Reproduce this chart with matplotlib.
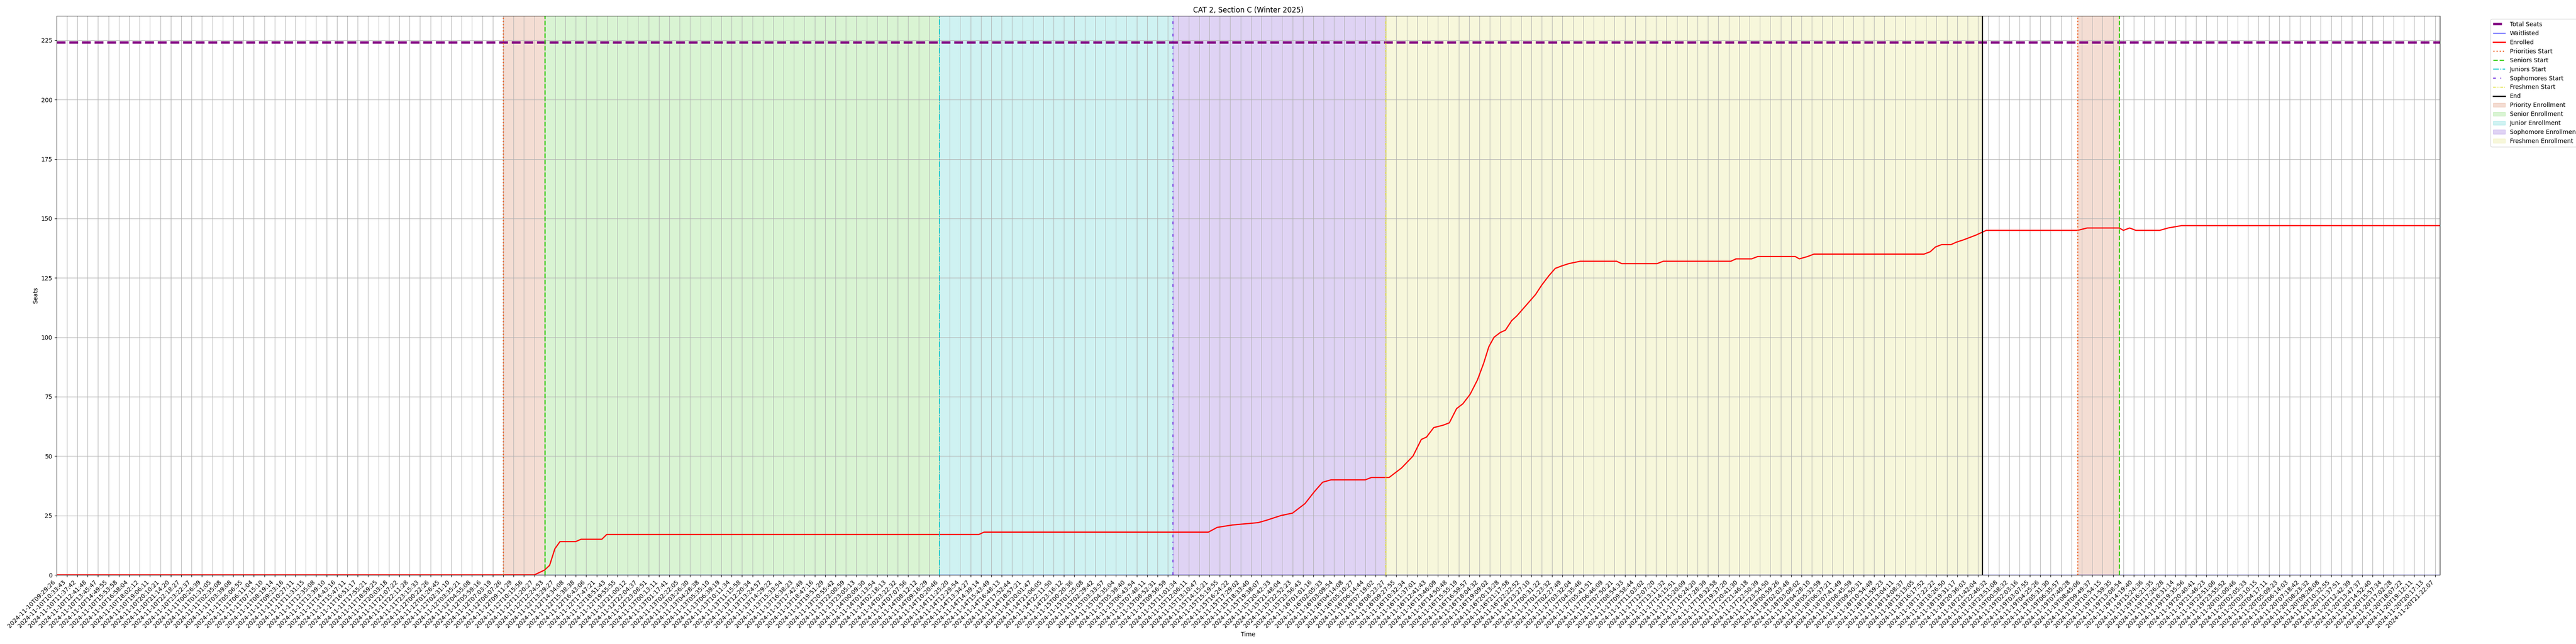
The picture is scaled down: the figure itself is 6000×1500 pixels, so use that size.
import matplotlib
matplotlib.use("Agg")
import matplotlib.pyplot as plt

title = "CAT 2, Section C (Winter 2025)"
total_seats = 224

# tick labels (sample timestamps shown on the x axis, one per tick position)
tick_labels = [
    "2024-11-10T09:29:26", "2024-11-10T10:33:43", "2024-11-10T11:37:42", "2024-11-10T12:41:48",
    "2024-11-10T13:45:47", "2024-11-10T14:49:55", "2024-11-10T15:53:58", "2024-11-10T16:58:04",
    "2024-11-10T18:02:12", "2024-11-10T19:06:11", "2024-11-10T20:10:21", "2024-11-10T21:14:20",
    "2024-11-10T22:18:27", "2024-11-10T23:22:37", "2024-11-11T00:26:39", "2024-11-11T01:31:05",
    "2024-11-11T02:35:08", "2024-11-11T03:39:08", "2024-11-11T05:06:55", "2024-11-11T06:11:04",
    "2024-11-11T07:15:10", "2024-11-11T08:19:14", "2024-11-11T09:23:16", "2024-11-11T10:27:11",
    "2024-11-11T11:31:15", "2024-11-11T12:35:08", "2024-11-11T13:39:10", "2024-11-11T14:43:16",
    "2024-11-11T15:47:11", "2024-11-11T16:51:17", "2024-11-11T17:55:21", "2024-11-11T18:59:25",
    "2024-11-11T20:03:18", "2024-11-11T21:07:22", "2024-11-11T22:11:28", "2024-11-11T23:15:33",
    "2024-11-12T00:22:26", "2024-11-12T01:26:45", "2024-11-12T02:31:10", "2024-11-12T03:35:21",
    "2024-11-12T04:55:08", "2024-11-12T05:59:16", "2024-11-12T07:03:19", "2024-11-12T08:07:26",
    "2024-11-12T09:11:29", "2024-11-12T10:15:56", "2024-11-12T11:20:27", "2024-11-12T12:24:53",
    "2024-11-12T13:29:27", "2024-11-12T14:34:08", "2024-11-12T15:38:38", "2024-11-12T16:43:06",
    "2024-11-12T17:47:21", "2024-11-12T18:51:43", "2024-11-12T19:55:55", "2024-11-12T21:00:12",
    "2024-11-12T22:04:37", "2024-11-12T23:08:51", "2024-11-13T00:13:11", "2024-11-13T01:17:41",
    "2024-11-13T02:22:05", "2024-11-13T03:26:30", "2024-11-13T04:28:38", "2024-11-13T05:35:10",
    "2024-11-13T06:39:19", "2024-11-13T10:11:34", "2024-11-13T11:15:58", "2024-11-13T12:20:34",
    "2024-11-13T13:24:57", "2024-11-13T14:29:22", "2024-11-13T15:33:54", "2024-11-13T16:38:23",
    "2024-11-13T17:42:49", "2024-11-13T18:47:16", "2024-11-13T19:51:29", "2024-11-13T20:55:42",
    "2024-11-13T22:00:59", "2024-11-13T23:05:13", "2024-11-14T00:09:30", "2024-11-14T01:13:54",
    "2024-11-14T02:18:13", "2024-11-14T03:22:32", "2024-11-14T07:07:56", "2024-11-14T08:12:12",
    "2024-11-14T09:16:29", "2024-11-14T10:20:46", "2024-11-14T11:25:20", "2024-11-14T12:29:54",
    "2024-11-14T13:34:27", "2024-11-14T14:39:14", "2024-11-14T15:43:49", "2024-11-14T16:48:13",
    "2024-11-14T17:52:44", "2024-11-14T18:57:21", "2024-11-14T20:01:47", "2024-11-14T21:06:05",
    "2024-11-14T22:11:50", "2024-11-14T23:16:12", "2024-11-15T00:20:36", "2024-11-15T01:25:08",
    "2024-11-15T02:29:42", "2024-11-15T03:33:57", "2024-11-15T04:35:04", "2024-11-15T05:39:40",
    "2024-11-15T06:43:54", "2024-11-15T07:48:11", "2024-11-15T08:52:31", "2024-11-15T09:56:59",
    "2024-11-15T11:01:34", "2024-11-15T12:06:11", "2024-11-15T13:10:47", "2024-11-15T14:15:21",
    "2024-11-15T15:19:55", "2024-11-15T16:24:22", "2024-11-15T17:29:02", "2024-11-15T18:33:40",
    "2024-11-15T19:38:07", "2024-11-15T20:42:33", "2024-11-15T21:48:04", "2024-11-15T22:52:23",
    "2024-11-15T23:56:43", "2024-11-16T01:01:16", "2024-11-16T02:05:33", "2024-11-16T03:09:54",
    "2024-11-16T04:14:08", "2024-11-16T05:10:27", "2024-11-16T06:14:44", "2024-11-16T07:19:02",
    "2024-11-16T08:23:27", "2024-11-16T09:27:55", "2024-11-16T10:32:34", "2024-11-16T11:37:01",
    "2024-11-16T12:41:43", "2024-11-16T13:46:09", "2024-11-16T14:50:48", "2024-11-16T15:55:19",
    "2024-11-16T16:59:57", "2024-11-16T18:04:32", "2024-11-16T19:09:02", "2024-11-16T20:13:28",
    "2024-11-16T21:17:58", "2024-11-16T22:22:52", "2024-11-16T23:27:10", "2024-11-17T00:31:22",
    "2024-11-17T01:23:32", "2024-11-17T02:27:49", "2024-11-17T03:32:04", "2024-11-17T04:35:46",
    "2024-11-17T05:41:51", "2024-11-17T06:46:09", "2024-11-17T07:50:21", "2024-11-17T08:54:33",
    "2024-11-17T09:58:44", "2024-11-17T11:03:02", "2024-11-17T12:07:20", "2024-11-17T13:11:32",
    "2024-11-17T14:15:51", "2024-11-17T15:20:09", "2024-11-17T16:24:20", "2024-11-17T17:28:39",
    "2024-11-17T18:32:58", "2024-11-17T19:37:20", "2024-11-17T20:41:30", "2024-11-17T21:46:18",
    "2024-11-17T22:50:39", "2024-11-17T23:54:50", "2024-11-18T00:59:26", "2024-11-18T02:03:48",
    "2024-11-18T03:08:02", "2024-11-18T04:28:10", "2024-11-18T05:32:59", "2024-11-18T06:37:21",
    "2024-11-18T07:41:49", "2024-11-18T08:45:59", "2024-11-18T09:50:31", "2024-11-18T10:54:49",
    "2024-11-18T11:59:23", "2024-11-18T13:04:11", "2024-11-18T14:08:37", "2024-11-18T15:13:05",
    "2024-11-18T16:17:52", "2024-11-18T17:22:22", "2024-11-18T18:26:50", "2024-11-18T19:31:17",
    "2024-11-18T20:36:03", "2024-11-18T21:42:04", "2024-11-18T22:46:32", "2024-11-18T23:51:08",
    "2024-11-19T00:58:32", "2024-11-19T02:03:16", "2024-11-19T03:07:55", "2024-11-19T04:25:26",
    "2024-11-19T05:31:30", "2024-11-19T06:35:57", "2024-11-19T07:40:28", "2024-11-19T08:45:06",
    "2024-11-19T09:49:37", "2024-11-19T10:54:15", "2024-11-19T11:59:35", "2024-11-19T13:08:54",
    "2024-11-19T14:19:40", "2024-11-19T15:24:36", "2024-11-19T16:21:35", "2024-11-19T17:26:28",
    "2024-11-19T18:31:14", "2024-11-19T19:35:56", "2024-11-19T20:40:41", "2024-11-19T21:46:23",
    "2024-11-19T22:51:06", "2024-11-19T23:55:52", "2024-11-20T01:00:46", "2024-11-20T02:05:33",
    "2024-11-20T03:10:15", "2024-11-20T04:17:11", "2024-11-20T05:09:23", "2024-11-20T06:14:03",
    "2024-11-20T07:18:42", "2024-11-20T08:23:32", "2024-11-20T09:28:08", "2024-11-20T10:32:55",
    "2024-11-20T11:37:51", "2024-11-20T12:42:39", "2024-11-20T13:47:37", "2024-11-20T14:52:40",
    "2024-11-20T15:57:34", "2024-11-20T17:02:28", "2024-11-20T18:07:22", "2024-11-20T19:12:11",
    "2024-11-20T20:17:13", "2024-11-20T21:22:07",
]

# enrolled series: sample position (in tick-index units) and value
enrolled_pos = [0.0, 46.0, 46.97, 47.47, 47.98, 48.47, 49.98, 50.5, 52.5, 52.97,
                88.8, 89.3, 110.9, 111.75, 113.2, 115.7, 116.5, 117.9, 119.0, 120.2,
                121.1, 121.9, 122.7, 126.0, 126.6, 128.3, 129.5, 130.6, 131.4, 131.9,
                132.6, 133.5, 134.1, 134.8, 135.4, 136.1, 136.8, 137.4, 137.9, 138.4,
                139.0, 139.5, 140.1, 140.6, 141.2, 141.8, 142.4, 143.0, 143.7, 144.3,
                144.9, 145.6, 146.7, 150.2, 150.7, 154.1, 154.7, 161.2, 161.7, 163.2,
                163.8, 167.4, 167.8, 168.6, 169.2, 179.8, 180.4, 180.9, 181.5, 182.4,
                182.9, 183.6, 184.2, 184.8, 185.3, 185.8, 194.6, 195.5, 198.6, 199.0,
                199.6, 200.2, 202.5, 203.3, 204.6, 229.48]
enrolled_val = [0, 0, 2, 4, 11, 14, 14, 15, 15, 17,
                17, 18, 18, 20, 21, 22, 23, 25, 26, 30,
                35, 39, 40, 40, 41, 41, 45, 50, 57, 58,
                62, 63, 64, 70, 72, 76, 82, 89, 96, 100,
                102, 103, 107, 109, 112, 115, 118, 122, 126, 129,
                130, 131, 132, 132, 131, 131, 132, 132, 133, 133,
                134, 134, 133, 134, 135, 135, 136, 138, 139, 139,
                140, 141, 142, 143, 144, 145, 145, 146, 146, 145,
                146, 145, 145, 146, 147, 147]

waitlist_pos = [0.0, 229.48]
waitlist_val = [0, 0]

# period boundaries (tick-index units)
priority_start = [43.0, 194.6]
senior_start = [47.0, 198.6]
junior_start = 85.0
sophomore_start = 107.5
freshmen_start = 128.0
end_pos = 185.4

fig, ax = plt.subplots(figsize=(60, 15), dpi=100)
fig.subplots_adjust(left=0.02195, right=0.9472, top=0.9751, bottom=0.1073)

ax.axhline(total_seats, color='purple', linestyle='--', linewidth=4, label='Total Seats')
ax.plot(waitlist_pos, waitlist_val, color='blue', linewidth=1, label='Waitlisted')
ax.plot(enrolled_pos, enrolled_val, color='red', linewidth=2, label='Enrolled')

c_pri, c_sen, c_jun, c_sop, c_fre = '#f06a30', '#33cc11', '#11c8cc', '#6a22dd', '#dddd22'
ax.axvline(priority_start[0], color=c_pri, linestyle=':', linewidth=2, label='Priorities Start')
ax.axvline(senior_start[0], color=c_sen, linestyle='--', linewidth=2, label='Seniors Start')
ax.axvline(junior_start, color=c_jun, linestyle='-.', linewidth=1.5, label='Juniors Start')
ax.axvline(sophomore_start, color=c_sop, linestyle=(0, (3, 5, 1, 5)), linewidth=1.5, label='Sophomores Start')
ax.axvline(freshmen_start, color=c_fre, linestyle=(0, (3, 1, 1, 1, 1, 1)), linewidth=1.5, label='Freshmen Start')
ax.axvline(end_pos, color='black', linestyle='-', linewidth=2, label='End')
ax.axvline(priority_start[1], color=c_pri, linestyle=':', linewidth=2)
ax.axvline(senior_start[1], color=c_sen, linestyle='--', linewidth=2)

ax.axvspan(priority_start[0], senior_start[0], color='#d77b53', alpha=0.25, label='Priority Enrollment')
ax.axvspan(senior_start[0], junior_start, color='#6bd753', alpha=0.25, label='Senior Enrollment')
ax.axvspan(junior_start, sophomore_start, color='#43cfcf', alpha=0.25, label='Junior Enrollment')
ax.axvspan(sophomore_start, freshmen_start, color='#8353d7', alpha=0.25, label='Sophomore Enrollment')
ax.axvspan(freshmen_start, end_pos, color='#e3e373', alpha=0.25, label='Freshmen Enrollment')
ax.axvspan(priority_start[1], senior_start[1], color='#d77b53', alpha=0.25)

ax.set_xticks(range(len(tick_labels)))
ax.set_xticklabels(tick_labels, rotation=45, ha='right')
ax.set_xlim(0, waitlist_pos[-1])
ax.set_yticks(range(0, 226, 25))
ax.set_ylim(0, total_seats * 1.05)
ax.grid(True)
ax.set_title(title)
ax.set_xlabel('Time')
ax.set_ylabel('Seats')
ax.legend(loc='upper left', bbox_to_anchor=(1.02, 1))

fig.savefig('out.png', dpi=100)
